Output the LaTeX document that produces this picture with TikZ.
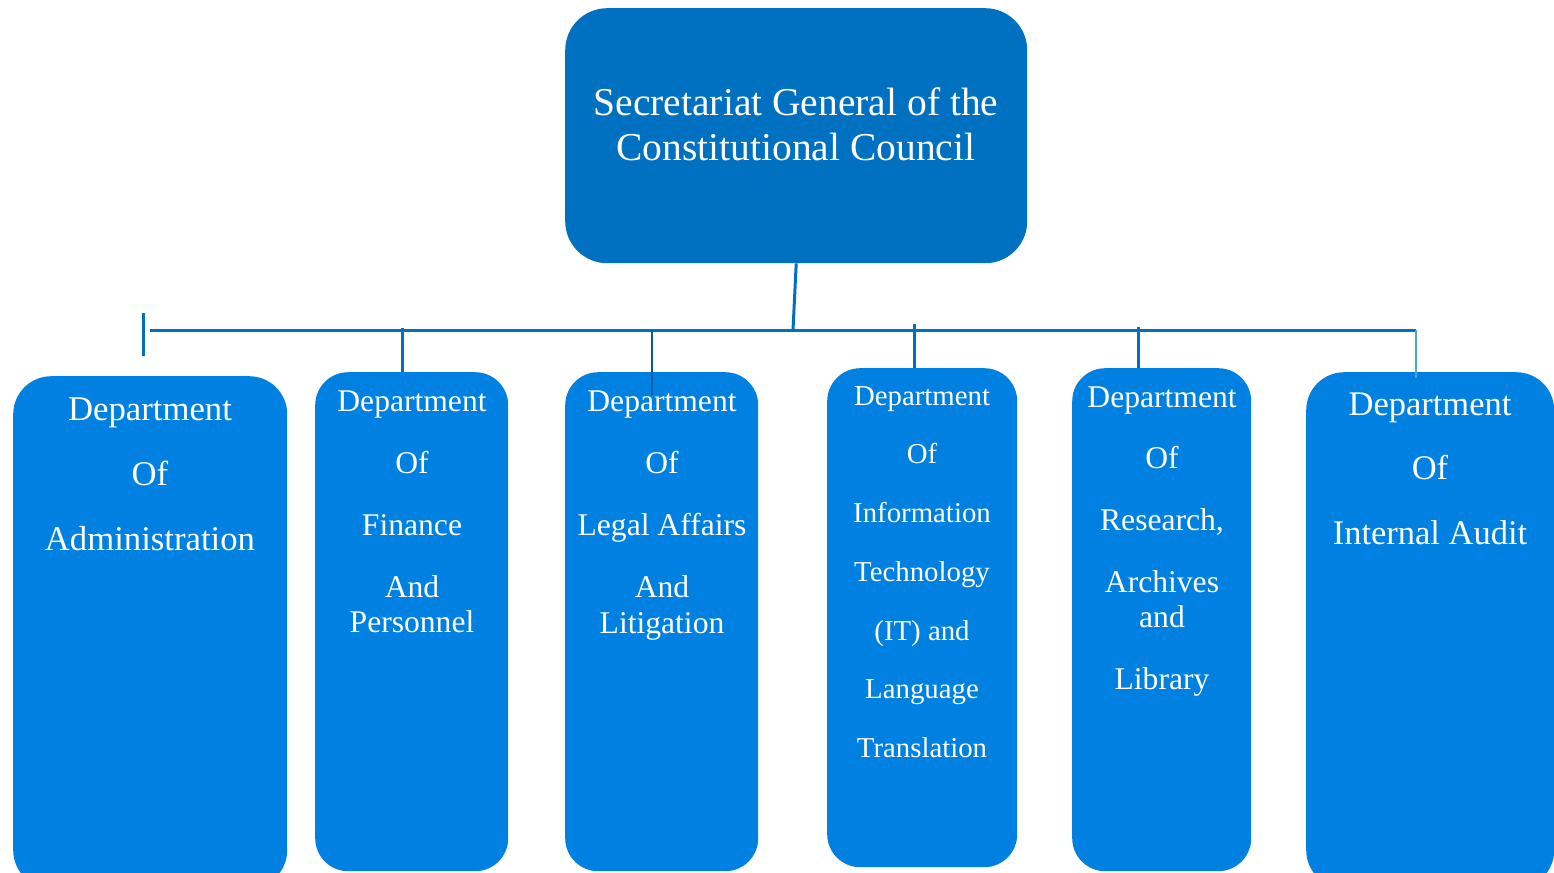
\documentclass[tikz,border=0pt]{standalone}
\usepackage{fontspec}
\setmainfont{Liberation Serif}
\definecolor{topblue}{RGB}{0,112,192}
\definecolor{deptblue}{RGB}{0,129,225}
\definecolor{linkblue}{RGB}{0,112,192}
\definecolor{darklink}{RGB}{0,95,160}
\definecolor{tealline}{RGB}{70,170,200}
\newcommand{\firstln}{\rule{0pt}{40pt}}
\begin{document}
\begin{tikzpicture}[x=1pt,y=-1pt,
  topbox/.style={fill=topblue, rounded corners=42pt, inner sep=0pt, anchor=north west},
  deptbox/.style={fill=deptblue, inner sep=0pt, anchor=north west},
  lbl/.style={text=white, align=center, anchor=north, inner sep=0pt, yshift=40pt},
  link/.style={draw=linkblue, line width=3pt}
]
\useasboundingbox (0,0) rectangle (1554,872);
\begin{scope}
\clip (0,0) rectangle (1554,872);
% boxes
\node[topbox, minimum width=462pt, minimum height=255pt] (top) at (565,8) {};
\node[deptbox, rounded corners=38pt, minimum width=274pt, minimum height=512pt] (d1) at (13,376) {};
\node[deptbox, rounded corners=33pt, minimum width=193pt, minimum height=499pt] (d2) at (315,372) {};
\node[deptbox, rounded corners=33pt, minimum width=193pt, minimum height=499pt] (d3) at (565,372) {};
\node[deptbox, rounded corners=33pt, minimum width=190pt, minimum height=499pt] (d4) at (827,368) {};
\node[deptbox, rounded corners=33pt, minimum width=179pt, minimum height=503pt] (d5) at (1072,368) {};
\node[deptbox, rounded corners=38pt, minimum width=248pt, minimum height=516pt] (d6) at (1306,372) {};

% connectors
\coordinate (hub) at (793,330);
\coordinate (lend) at (150,330);
\coordinate (rend) at (1416,330);
\coordinate (ltA) at (143,313);
\coordinate (ltB) at (143,356);
\coordinate (fA) at (402,328);
\coordinate (lgA) at (652,331);
\coordinate (lgB) at (652,395);
\coordinate (itA) at (914,324);
\coordinate (rsA) at (1138,327);
\coordinate (rB) at (1416,378);

\draw[link] (top.south) -- (hub);
\draw[link] (lend) -- (rend);
\draw[link] (ltA) -- (ltB);
\draw[link] (fA) -- (fA |- d2.north);
\draw[draw=darklink, line width=1.8pt] (lgA) -- (lgB);
\draw[link] (itA) -- (itA |- d4.north);
\draw[link] (rsA) -- (rsA |- d5.north);
\draw[draw=tealline, line width=1.8pt] (rend) -- (rB);

% texts (positioned at the baseline of their first line)
\node[lbl, font=\fontsize{39.5}{45}\selectfont] (ttop) at (796,115) {\firstln Secretariat General of the\\Constitutional Council};
\node[lbl, font=\fontsize{34.7}{65}\selectfont] (t1) at (150,420) {\firstln Department\\Of\\Administration};
\node[lbl, font=\fontsize{31.6}{35}\selectfont] (t2) at (412,411) {\firstln Department\\[27pt]Of\\[27pt]Finance\\[27pt]And\\Personnel};
\node[lbl, font=\fontsize{31.6}{35}\selectfont] (t3) at (662,411) {\firstln Department\\[27pt]Of\\[27pt]Legal Affairs\\[27pt]And\\[1pt]Litigation};
\node[lbl, font=\fontsize{28.8}{58.7}\selectfont] (t4) at (922,405) {\firstln Department\\Of\\Information\\Technology\\(IT) and\\Language\\Translation};
\node[lbl, font=\fontsize{31.6}{35}\selectfont] (t5) at (1162,407) {\firstln Department\\[26pt]Of\\[27pt]Research,\\[27pt]Archives\\and\\[27pt]Library};
\node[lbl, font=\fontsize{34.5}{64.5}\selectfont] (t6) at (1430,415) {\firstln Department\\Of\\Internal Audit};
\end{scope}
\end{tikzpicture}
\end{document}
